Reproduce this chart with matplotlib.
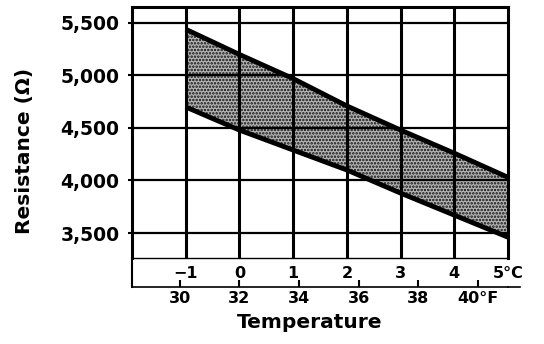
import numpy as np
import matplotlib.pyplot as plt

# data
celsius = [-1, 0, 1, 2, 3, 4, 5]
upper = [5440, 5200, 4970, 4710, 4480, 4260, 4030]
lower = [4700, 4480, 4290, 4100, 3880, 3670, 3460]
res_ticks = [3500, 4000, 4500, 5000, 5500]
res_labels = ['3,500', '4,000', '4,500', '5,000', '5,500']
c_ticks = [-1, 0, 1, 2, 3, 4, 5]
c_labels = ['\u22121', '0', '1', '2', '3', '4', '5°C']
f_ticks = [30, 32, 34, 36, 38, 40]
f_labels = ['30', '32', '34', '36', '38', '40°F']

plt.rcParams['font.family'] = 'DejaVu Sans'
plt.rcParams['font.weight'] = 'bold'
plt.rcParams['hatch.linewidth'] = 1.2

fig = plt.figure(figsize=(5.44, 3.44), dpi=100)
ax = fig.add_axes([132/544, 86/344, 376/544, 251/344])
ax.set_xlim(-2, 5)
ax.set_ylim(3262, 5652)

# shaded band (stippled)
ax.fill_between(celsius, lower, upper, facecolor='#b4b4b4', hatch='.....',
                edgecolor='#101010', lw=0, zorder=1)
ax.plot(celsius, upper, color='black', lw=3.5, zorder=3, solid_capstyle='butt')
ax.plot(celsius, lower, color='black', lw=3.5, zorder=3, solid_capstyle='butt')

# grid
for c in c_ticks[:-1]:
    ax.axvline(c, color='black', lw=2.2, zorder=2)
for r in res_ticks:
    ax.axhline(r, color='black', lw=1.6, zorder=2)

for s in ['left', 'top', 'right']:
    ax.spines[s].set_linewidth(2.2)
ax.spines['bottom'].set_linewidth(1.0)

ax.set_yticks(res_ticks, res_labels)
ax.tick_params(axis='y', length=3, width=1.5, pad=6, labelsize=13.5)
ax.set_xticks(c_ticks, c_labels)
ax.tick_params(axis='x', length=0, pad=6, labelsize=11.5)

# fahrenheit scale
sec = ax.secondary_xaxis(-29/251, functions=(lambda c: c*1.8 + 32, lambda f: (f - 32)/1.8))
sec.set_xticks(f_ticks, f_labels)
sec.tick_params(direction='in', length=5, width=1.5, pad=3, labelsize=11.5)
for s in ['top', 'left', 'right']:
    sec.spines[s].set_visible(False)
sec.spines['bottom'].set_linewidth(1.2)

ax.plot([0, 0], [0, -29/251], transform=ax.transAxes, clip_on=False, color='black', lw=1.5)
ax.plot([1, 1.032], [-29/251, -29/251], transform=ax.transAxes, clip_on=False, color='black', lw=1.2)

fig.text(25/544, 1 - 151/344, 'Resistance (\u03a9)', rotation=90, ha='center', va='center', fontsize=14.5)
fig.text(310/544, 1 - 323/344, 'Temperature', ha='center', va='center', fontsize=14.5)

fig.savefig('out.png', dpi=100)
